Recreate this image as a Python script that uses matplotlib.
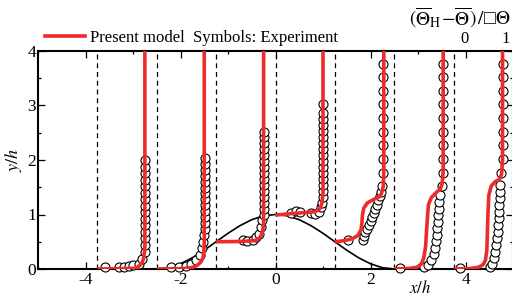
import matplotlib
matplotlib.use("Agg")
import matplotlib.pyplot as plt
from matplotlib.lines import Line2D
from matplotlib.ticker import MultipleLocator

plt.rcParams["font.family"] = ["Liberation Serif", "DejaVu Serif"]
plt.rcParams["mathtext.fontset"] = "stix"
plt.rcParams["axes.unicode_minus"] = False

RED = "#ee2a2a"

# profile stations (x/h) and hill surface
stations = [-3.75, -2.5, -1.25, 0.0, 1.25, 2.5, 3.75]
hill_x = [-2.5, -2.25, -2.0, -1.75, -1.5, -1.25, -1.0, -0.75, -0.5, -0.25, 0.0,
          0.25, 0.5, 0.75, 1.0, 1.25, 1.5, 1.75, 2.0, 2.25, 2.5]
hill_y = [0.0, 0.024, 0.095, 0.206, 0.345, 0.5, 0.655, 0.794, 0.905, 0.976, 1.0,
          0.976, 0.905, 0.794, 0.655, 0.5, 0.345, 0.206, 0.095, 0.024, 0.0]

# present model: (theta, y/h) per station
model_t = [
    [0.0, 0.76, 0.83, 0.87, 0.91, 0.94, 0.965, 0.98, 0.99, 1.0, 1.0],
    [0.0, 0.5, 0.71, 0.80, 0.87, 0.93, 0.97, 0.99, 1.0, 1.0],
    [0.0, 0.5, 0.80, 0.87, 0.91, 0.95, 0.98, 1.0, 1.0],
    [0.0, 0.4, 0.82, 0.90, 0.95, 0.98, 1.0, 1.0],
    [0.0, 0.2, 0.38, 0.49, 0.55, 0.57, 0.58, 0.61, 0.68, 0.80, 0.91, 0.98, 1.02, 1.03, 1.03],
    [0.0, 0.3, 0.47, 0.57, 0.62, 0.66, 0.68, 0.70, 0.72, 0.78, 0.88, 0.97, 1.01, 1.03, 1.03],
    [0.0, 0.3, 0.52, 0.62, 0.67, 0.70, 0.72, 0.74, 0.79, 0.87, 0.96, 1.01, 1.03, 1.03],
]
model_y = [
    [0.0, 0.01, 0.025, 0.05, 0.08, 0.12, 0.17, 0.23, 0.31, 0.41, 4.0],
    [0.0, 0.005, 0.02, 0.045, 0.08, 0.13, 0.2, 0.3, 0.45, 4.0],
    [0.5, 0.505, 0.52, 0.54, 0.57, 0.62, 0.70, 0.86, 4.0],
    [0.99, 1.02, 1.05, 1.08, 1.13, 1.22, 1.39, 4.0],
    [0.5, 0.52, 0.56, 0.62, 0.72, 0.85, 0.99, 1.12, 1.21, 1.27, 1.31, 1.38, 1.52, 1.8, 4.0],
    [0.0, 0.01, 0.03, 0.09, 0.2, 0.41, 0.7, 0.96, 1.18, 1.31, 1.40, 1.47, 1.57, 1.8, 4.0],
    [0.0, 0.005, 0.03, 0.08, 0.16, 0.35, 0.96, 1.35, 1.52, 1.60, 1.64, 1.74, 2.0, 4.0],
]

# experiment: (theta, y/h) per station
exp_t = [
    [0.17, 0.45, 0.55, 0.66, 0.76, 0.87, 0.94] + [1.01] * 15,
    [0.29, 0.47, 0.61, 0.73, 0.83, 0.90, 0.95, 0.98, 1.0] + [1.02] * 13,
    [0.56, 0.66, 0.77, 0.84, 0.91, 0.94, 0.96] + [1.0] * 15,
    [0.33, 0.43, 0.52, 0.75, 0.84, 0.91, 0.95, 0.98] + [1.0] * 16,
    [0.28, 0.59, 0.61, 0.64, 0.68, 0.72, 0.75, 0.78, 0.82, 0.85, 0.88, 0.91, 0.94,
     0.97, 1.0, 1.02] + [1.02] * 8,
    [0.12, 0.63, 0.71, 0.78, 0.83, 0.86, 0.88, 0.90, 0.91, 0.92, 0.93, 0.94, 0.95,
     0.97, 1.0, 1.02] + [1.03] * 8,
    [0.14, 0.77, 0.81, 0.84, 0.88, 0.90, 0.91, 0.93, 0.93, 0.95, 0.95, 0.96, 0.97,
     0.98, 0.98, 1.0] + [1.03] * 8,
]
exp_y = [
    [0.03, 0.03, 0.04, 0.05, 0.07, 0.10, 0.19,
     0.32, 0.44, 0.56, 0.68, 0.80, 0.92, 1.04, 1.16, 1.28, 1.40, 1.52, 1.64, 1.76, 1.88, 2.00],
    [0.03, 0.04, 0.06, 0.10, 0.17, 0.26, 0.38, 0.50, 0.62,
     0.74, 0.85, 0.96, 1.06, 1.17, 1.28, 1.39, 1.49, 1.60, 1.71, 1.82, 1.92, 2.03],
    [0.53, 0.52, 0.54, 0.58, 0.65, 0.77, 0.89,
     1.00, 1.11, 1.22, 1.33, 1.44, 1.55, 1.66, 1.77, 1.88, 1.99, 2.10, 2.21, 2.32, 2.43, 2.52],
    [1.03, 1.06, 1.05, 1.03, 1.01, 1.05, 1.13, 1.22,
     1.32, 1.43, 1.54, 1.65, 1.76, 1.87, 1.98, 2.09, 2.20, 2.31, 2.42, 2.53, 2.64, 2.75, 2.86, 3.02],
    [0.53, 0.54, 0.60, 0.67, 0.74, 0.81, 0.88, 0.95, 1.03, 1.10, 1.18, 1.26, 1.34,
     1.42, 1.52, 1.77, 2.02, 2.27, 2.52, 2.77, 3.02, 3.27, 3.52, 3.77],
    [0.01, 0.03, 0.08, 0.16, 0.27, 0.39, 0.51, 0.63, 0.75, 0.87, 0.99, 1.11, 1.23,
     1.35, 1.52, 1.77, 2.02, 2.27, 2.52, 2.77, 3.02, 3.27, 3.52, 3.77],
    [0.01, 0.04, 0.10, 0.20, 0.32, 0.44, 0.56, 0.68, 0.81, 0.93, 1.05, 1.17, 1.30,
     1.42, 1.54, 1.76, 2.02, 2.27, 2.52, 2.77, 3.02, 3.27, 3.52, 3.77],
]

fig = plt.figure(figsize=(5.12, 2.98), dpi=100)
ax = fig.add_axes([38 / 512, 29 / 298, 475 / 512, 218 / 298])

for x0 in stations:
    ax.axvline(x0, color="k", lw=0.9, ls=(0, (4, 3)), zorder=1)
ax.plot(hill_x, hill_y, color="k", lw=1.2, zorder=2)

for x0, tt, yy in zip(stations, exp_t, exp_y):
    ax.plot([x0 + t for t in tt], yy, "o", ms=6.5, mfc="white", mec="k", mew=0.8,
            zorder=3, clip_on=False)
for x0, tt, yy in zip(stations, model_t, model_y):
    ax.plot([x0 + t for t in tt], yy, color=RED, lw=2.6, zorder=4,
            solid_capstyle="butt")

ax.set_xlim(-5, 5)
ax.set_ylim(0, 4)
ax.xaxis.set_major_locator(MultipleLocator(2))
ax.xaxis.set_minor_locator(MultipleLocator(1))
ax.yaxis.set_major_locator(MultipleLocator(1))
ax.yaxis.set_minor_locator(MultipleLocator(0.5))
ax.tick_params(which="both", direction="in", top=True, right=True, labelsize=12.5)
ax.tick_params(which="major", length=5, width=0.9)
ax.tick_params(which="minor", length=2.5, width=0.9)
ax.tick_params(axis="x", pad=2)
ax.tick_params(axis="y", pad=1.5)
for s in ax.spines.values():
    s.set_linewidth(1.5)

ax.text(3.05, -0.35, r"$x/h$", fontsize=12, ha="center", va="center")
ax.set_ylabel(r"$y/h$", fontsize=13, labelpad=2)

ax.text(3.98, 4.22, "0", fontsize=12, ha="center", va="center", clip_on=False)
ax.text(4.85, 4.22, "1", fontsize=12, ha="center", va="center", clip_on=False)
fig.text(0.897, 0.94, r"$(\overline{\Theta}_{\mathrm{H}}\!-\!\overline{\Theta})\,/$□$\Theta$",
         fontsize=14, ha="center", va="center")

handle = Line2D([], [], color=RED, lw=2.6)
fig.legend([handle], ["Present model  Symbols: Experiment"], loc="center left",
           bbox_to_anchor=(45 / 512, 0.872), frameon=False, fontsize=12,
           handlelength=2.4, handletextpad=0.3, borderpad=0, borderaxespad=0)

fig.savefig("out.png", dpi=100)
